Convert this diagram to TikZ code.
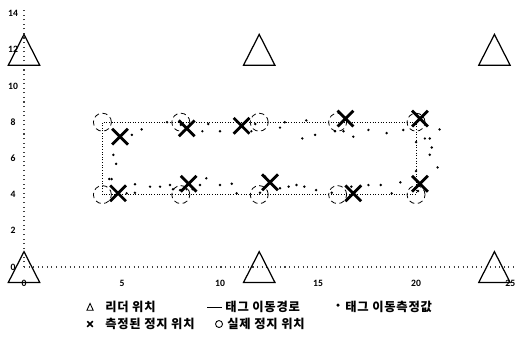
\documentclass[tikz,border=0pt]{standalone}
\usepackage{fontspec}
\newfontfamily\krfont{Noto Sans CJK KR}[LetterSpace=6]
\newfontfamily\numfont{Carlito}
\usetikzlibrary{shapes.misc}

\pgfmathsetmacro{\radius}{0.027}
\pgfmathsetmacro{\ring}{0.18}

\tikzset{
    axisline/.style={dotted, line width=0.6pt, black!75},
    leader/.style={line width=0.7pt},
    track/.style={densely dotted, line width=0.5pt},
    stopmark/.style={draw, cross out, line width=1.6pt, minimum size=0.26cm, inner sep=0pt},
    truestop/.style={densely dashed, line width=0.45pt},
    ticklabel/.style={font=\numfont\bfseries\fontsize{5.5}{6}\selectfont, inner sep=0pt},
    legendtext/.style={font=\krfont\bfseries\fontsize{7}{8}\selectfont, anchor=west, inner sep=0pt},
}

\begin{document}
\begin{tikzpicture}[x=0.392cm, y=0.362cm]
            \useasboundingbox (-1.2245,-4.144) rectangle (25.10,14.751);
            % axes
            \draw[axisline] (0,0) -- (25,0);
            \draw[axisline] (0,0) -- (0,14.2);
            \foreach \y in {0,2,...,14}{
                \node[ticklabel] (y\y) at (-0.56,\y) {\y};
            }
            \foreach \x in {0,5,...,20}{
                \node[ticklabel] (x\x) at (\x,-0.88) {\x};
            }
            \node[ticklabel, anchor=east] (x25) at (25.08,-0.88) {25};
            % reader positions
            \foreach \x in {0,12,24}{
                \foreach \y in {0,12}{
                    \draw[leader] (\x,\y) ++(0,0.85) -- ++(-0.8,-1.7) -- ++(1.6,0) -- cycle;
                }
            }
            % tag path
            \draw[track] (4,4) rectangle (20,8);
            % real stop positions
            \foreach \x in {4,8,...,20}{
                \foreach \y in {4,8}{
                    \draw[truestop] (\x,\y) circle(\ring cm);
                }
            }
            % measured tag points
            \foreach \p in {(5.5,7.3),(6.0,7.6),(7.3,8.0),(8.0,7.85),(9.1,7.5),(9.4,7.9),
                (10.0,7.5),(11.6,7.5),(11.8,7.9),(13.06,7.7),(13.3,8.0),(14.4,8.1),
                (14.2,7.1),(14.85,7.3),(15.87,7.5),(16.3,7.5),(16.8,7.2),(17.57,7.57),
                (18.5,7.4),(19.35,7.57),(21.2,7.6),(20.0,6.9),(20.45,7.1),(20.7,7.1),
                (20.8,6.6),(20.7,6.2),(21.1,5.5),(20.0,5.3),(4.56,6.2),(4.7,5.7),
                (4.35,4.86),(4.47,4.86),(5.24,4.07),(5.66,4.57),(5.66,4.1),(6.43,4.44),
                (6.94,4.44),(7.45,4.53),(7.6,4.3),(7.96,4.25),(8.3,4.3),(8.6,4.3),
                (8.98,4.53),(9.3,4.9),(10,4.53),(10.6,4.6),(10.85,4.07),(12.04,4.1),
                (12.3,5.0),(13.06,4.35),(13.5,4.44),(13.9,4.53),(14.3,4.44),(14.9,4.25),
                (15.7,4.1),(16.7,4.44),(17.57,4.53),(18.2,4.53),(18.76,4.07),(19.2,4.68),
                (19.95,4.35),(20.1,4.2)}{
                \fill \p circle(\radius cm);
            }
            % measured stop positions
            \foreach \p [count=\i] in {(4.9,7.2),(8.3,7.66),(11.1,7.8),(16.4,8.2),(20.2,8.2),
                (4.8,4.07),(8.4,4.6),(12.55,4.68),(16.8,4.07),(20.2,4.6)}{
                \node[stopmark] (s\i) at \p {};
            }
            % legend
            \draw[leader, line width=0.5pt] (3.37,-2.21) ++(0,0.2) -- ++(-0.16,-0.38) -- ++(0.32,0) -- cycle;
            \node[legendtext] (l1) at (4.13,-2.21) {리더 위치};
            \draw[line width=0.4pt] (9.34,-2.21) -- (10.1,-2.21);
            \node[legendtext] (l2) at (10.26,-2.21) {태그 이동경로};
            \fill (16.02,-2.1) circle(0.035cm);
            \node[legendtext] (l3) at (16.38,-2.21) {태그 이동측정값};
            \node[stopmark, line width=0.9pt, minimum size=0.08cm] (l4m) at (3.37,-3.15) {};
            \node[legendtext] (l4) at (4.13,-3.15) {측정된 정지 위치};
            \draw[line width=0.5pt] (9.95,-3.15) circle(0.07cm);
            \node[legendtext] (l5) at (10.36,-3.15) {실제 정지 위치};
\end{tikzpicture}
\end{document}
